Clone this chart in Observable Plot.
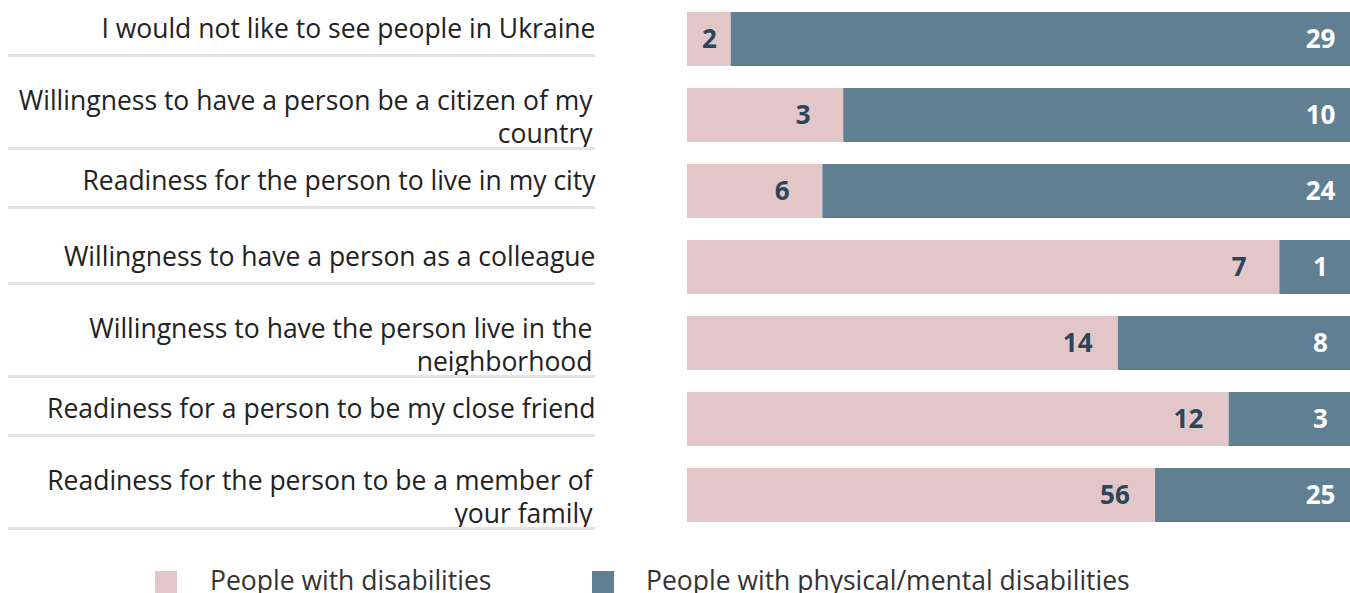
<!DOCTYPE html>
<html>
<head>
<meta charset="utf-8">
<script src="https://cdn.jsdelivr.net/npm/d3@7"></script>
<script src="https://cdn.jsdelivr.net/npm/@observablehq/plot@0.6"></script>
<style>
  html, body { margin: 0; padding: 0; background: #fff; overflow: hidden; }
  body { position: relative; width: 1350px; height: 593px; font-family: "Open Sans", sans-serif; }
  #chart svg { overflow: hidden; }
  .legend { position: absolute; top: 562px; left: 0; width: 1350px; height: 40px; color: #333; font-size: 26.5px; }
  .legend .sw { position: absolute; top: 9px; width: 22px; height: 22px; }
  .legend .lb { position: absolute; top: 0px; line-height: 36px; white-space: nowrap; }
</style>
</head>
<body>
<div id="chart"></div>
<div class="legend" id="legend"></div>
<script>
const categories = [
  "I would not like to see people in Ukraine",
  "Willingness to have a person be a citizen of my\ncountry",
  "Readiness for the person to live in my city",
  "Willingness to have a person as a colleague",
  "Willingness to have the person live in the\nneighborhood",
  "Readiness for a person to be my close friend",
  "Readiness for the person to be a member of\nyour family"
];
const disabilities = [2, 3, 6, 7, 14, 12, 56];
const physicalMental = [29, 10, 24, 1, 8, 3, 25];
const seriesNames = ["People with disabilities", "People with physical/mental disabilities"];
const seriesColors = ["#e3c7c8", "#617f93"];

const rows = categories.map((c, i) => ({
  label: c,
  a: disabilities[i],
  b: physicalMental[i],
  share: disabilities[i] / (disabilities[i] + physicalMental[i])
}));
const long = rows.flatMap(r => [
  {label: r.label, series: seriesNames[0], value: r.a},
  {label: r.label, series: seriesNames[1], value: r.b}
]);
const singleCats = categories.filter(c => !c.includes("\n"));
const doubleCats = categories.filter(c => c.includes("\n"));

const labelFont = {fontSize: 26.5, fill: "#222", fontFamily: "Open Sans"};

const chart = Plot.plot({
  width: 1350,
  height: 545,
  marginLeft: 687,
  marginRight: 0,
  marginTop: 0,
  marginBottom: 0,
  style: {fontFamily: "Open Sans", background: "#fff", overflow: "hidden"},
  x: {domain: [0, 1], range: [687, 1364], axis: null},
  y: {domain: categories, range: [1, 533], paddingInner: 0.29, paddingOuter: 0.14},
  color: {domain: seriesNames, range: seriesColors},
  marks: [
    Plot.barX(long, Plot.stackX({
      x: "value", y: "label", fill: "series",
      offset: "normalize", order: seriesNames
    })),
    // row labels
    Plot.axisY(singleCats, {anchor: "left", tickSize: 0, tickPadding: 92, dy: -10, label: null, ...labelFont}),
    Plot.axisY(doubleCats, {anchor: "left", tickSize: 0, tickPadding: 95, dy: 0, label: null, lineHeight: 1.25, ...labelFont}),
    // separator lines under labels
    Plot.axisY(singleCats, {anchor: "left", tickSize: 587, dx: -92, dy: 16, text: null, label: null, stroke: "#e3e3e3", strokeWidth: 3}),
    Plot.axisY(doubleCats, {anchor: "left", tickSize: 587, dx: -92, dy: 33, text: null, label: null, stroke: "#e3e3e3", strokeWidth: 3}),
    // value labels
    Plot.text(rows, {
      y: "label",
      x: d => Math.max(d.share - 0.06, d.share / 2),
      text: d => String(d.a),
      fill: "#2b4559", fontSize: 26, fontWeight: 700, fontFamily: "Open Sans"
    }),
    Plot.text(rows, {
      y: "label",
      x: 1,
      dx: -44,
      text: d => String(d.b),
      fill: "#ffffff", fontSize: 26, fontWeight: 700, fontFamily: "Open Sans"
    })
  ]
});
document.getElementById("chart").appendChild(chart);

const legend = document.getElementById("legend");
const legendPos = [{sw: 155, lb: 210}, {sw: 592, lb: 646}];
seriesNames.forEach((name, i) => {
  const sw = document.createElement("div");
  sw.className = "sw";
  sw.style.left = legendPos[i].sw + "px";
  sw.style.background = seriesColors[i];
  const lb = document.createElement("div");
  lb.className = "lb";
  lb.style.left = legendPos[i].lb + "px";
  lb.textContent = name;
  legend.appendChild(sw);
  legend.appendChild(lb);
});
</script>
</body>
</html>
